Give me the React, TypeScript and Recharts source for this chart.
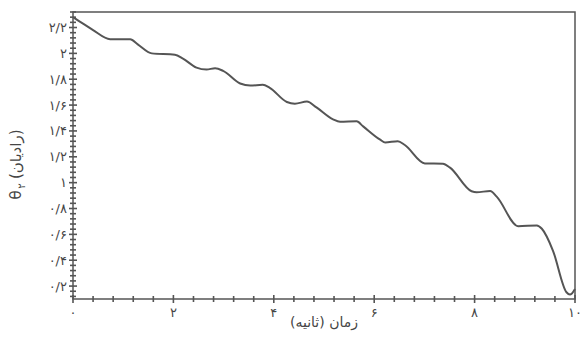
import React from "react";
import { LineChart, Line, XAxis, YAxis, ReferenceArea } from "recharts";

// time (s) and theta2 (rad)
const time = [
  0, 0.24, 0.4, 0.74, 1.14, 1.29, 1.57, 2.03, 2.19, 2.46, 2.66, 2.83, 2.99,
  3.33, 3.53, 3.78, 3.92, 4.26, 4.42, 4.66, 4.85, 5.18, 5.32, 5.65, 5.78,
  6.12, 6.22, 6.47, 6.61, 7.01, 7.37, 7.51, 7.94, 8.04, 8.31, 8.44, 8.87,
  9.24, 9.34, 9.56, 9.83, 9.9, 10,
];
const theta2 = [
  2.28, 2.22, 2.18, 2.11, 2.11, 2.07, 2.0, 1.99, 1.96, 1.89, 1.875, 1.885,
  1.865, 1.767, 1.751, 1.757, 1.733, 1.624, 1.611, 1.627, 1.582, 1.49, 1.471,
  1.474, 1.435, 1.332, 1.311, 1.32, 1.291, 1.149, 1.147, 1.116, 0.933, 0.925,
  0.936, 0.892, 0.663, 0.669, 0.643, 0.475, 0.152, 0.134, 0.178,
];

const xMajor = [0, 2, 4, 6, 8, 10];
const xLabels = ["۰", "۲", "۴", "۶", "۸", "۱۰"];
const yMajor = [0.2, 0.4, 0.6, 0.8, 1, 1.2, 1.4, 1.6, 1.8, 2, 2.2];
const yLabels = ["۰/۲", "۰/۴", "۰/۶", "۰/۸", "۱", "۱/۲", "۱/۴", "۱/۶", "۱/۸", "۲", "۲/۲"];

// minor tick marks: every 0.4 s on x, every 0.04 rad on y
const xTicks = Array.from({ length: 26 }, (_, i) => Math.round(i * 40) / 100);
const yTicks = Array.from({ length: 56 }, (_, i) => Math.round(12 + i * 4) / 100);

const X_DOMAIN: [number, number] = [0, 10];
const Y_DOMAIN: [number, number] = [0.1, 2.32];

const data = time.map((t, i) => ({ t, theta: theta2[i] }));

const INK = "#454545";
const AXIS = "#555";
const FONT = "'DejaVu Sans', sans-serif";

const labelOf = (v: number, majors: number[], labels: string[]) => {
  const i = majors.findIndex((m) => Math.abs(m - v) < 1e-6);
  return i >= 0 ? labels[i] : null;
};

// tick mark crossing the axis + label (only on major values)
function XTick(props: any) {
  const { x, y, payload } = props;
  const lab = labelOf(payload.value, xMajor, xLabels);
  const h = lab ? 4 : 3;
  return (
    <g>
      <path d={`M${x},${y - h}L${x},${y + h}`} stroke={AXIS} strokeWidth={1.6} fill="none" />
      {lab && (
        <text x={x} y={y + 18} textAnchor="middle" fill={INK} fontSize={13} fontFamily={FONT}>
          {lab}
        </text>
      )}
    </g>
  );
}

function YTick(props: any) {
  const { x, y, payload } = props;
  const lab = labelOf(payload.value, yMajor, yLabels);
  const w = lab ? 4 : 3;
  return (
    <g>
      <path d={`M${x - w},${y}L${x + w},${y}`} stroke={AXIS} strokeWidth={1.6} fill="none" />
      {lab && (
        <text x={x - 6} y={y + 4.5} textAnchor="end" fill={INK} fontSize={13} fontFamily={FONT}>
          {lab}
        </text>
      )}
    </g>
  );
}

// axis titles, drawn on top of the chart
function Titles() {
  return (
    <svg
      width={586}
      height={348}
      style={{ position: "absolute", left: 0, top: 0, pointerEvents: "none" }}
    >
      <g transform="translate(21,160) rotate(-90)" fill={INK} fontFamily={FONT}>
        <text x={-35} y={0} fontSize={15} textAnchor="middle">θ</text>
        <text x={-26} y={4} fontSize={10} textAnchor="middle">۲</text>
        <text x={-19} y={0} fontSize={15} textAnchor="start" direction="ltr">
          (رادیان)
        </text>
      </g>
      <text
        x={324}
        y={327}
        textAnchor="middle"
        direction="rtl"
        fill={INK}
        fontSize={14}
        fontFamily={FONT}
      >
        زمان (ثانیه)
      </text>
    </svg>
  );
}

export default function App() {
  return (
    <div style={{ position: "absolute", left: 0, top: 0, width: 586, height: 348, background: "#fff" }}>
      <LineChart
        width={586}
        height={348}
        data={data}
        margin={{ top: 12, right: 11, bottom: 0, left: 0 }}
      >
        <XAxis
          dataKey="t"
          type="number"
          domain={X_DOMAIN}
          ticks={xTicks}
          interval={0}
          height={49}
          tickSize={0}
          tickMargin={0}
          axisLine={false}
          tickLine={false}
          tick={<XTick />}
        />
        <YAxis
          type="number"
          domain={Y_DOMAIN}
          ticks={yTicks}
          interval={0}
          width={73}
          tickSize={0}
          tickMargin={0}
          axisLine={false}
          tickLine={false}
          tick={<YTick />}
        />
        <ReferenceArea
          x1={X_DOMAIN[0]}
          x2={X_DOMAIN[1]}
          y1={Y_DOMAIN[0]}
          y2={Y_DOMAIN[1]}
          fill="none"
          stroke={AXIS}
          strokeWidth={1.5}
          ifOverflow="visible"
        />
        <Line
          type="monotone"
          dataKey="theta"
          stroke="#555"
          strokeWidth={2}
          dot={false}
          isAnimationActive={false}
        />
      </LineChart>
      <Titles />
    </div>
  );
}
